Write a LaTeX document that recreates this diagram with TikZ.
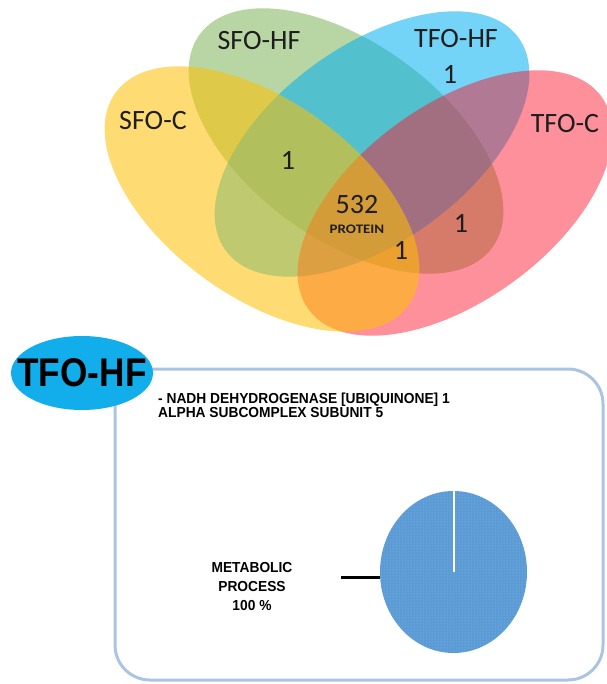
\documentclass[tikz,border=0pt]{standalone}
\usepackage{fontspec}
\setmainfont{Carlito}
\newfontfamily\arialf{Liberation Sans}
\usetikzlibrary{shapes.geometric,patterns}
\definecolor{vgreen}{RGB}{112,173,71}
\definecolor{vblue}{RGB}{0,176,240}
\definecolor{vred}{RGB}{250,20,40}
\definecolor{vyellow}{RGB}{255,192,0}
\definecolor{vtext}{RGB}{30,30,30}
\definecolor{tagblue}{RGB}{18,174,236}
\definecolor{boxc}{RGB}{170,196,226}
\definecolor{pieblue}{RGB}{91,155,213}
\definecolor{piedot}{RGB}{150,190,232}
\tikzset{
  vennset/.style={fill opacity=#1},
  vlabel/.style={text=vtext, font=\fontsize{28}{30}\selectfont, inner sep=0},
  vnum/.style={text=vtext, font=\fontsize{28}{30}\selectfont, inner sep=0},
}
\begin{document}
\begin{tikzpicture}[x=1pt,y=-1pt]
\useasboundingbox (0,0) rectangle (606,684);
% Venn ellipses
\fill[vgreen, vennset=0.5, rotate around={-36:(346,141)}] (346,141) ellipse [x radius=181, y radius=98];
\fill[vblue, vennset=0.55, rotate around={36:(372,144)}] (372,144) ellipse [x radius=181, y radius=98];
\fill[vred, vennset=0.47, rotate around={36:(455,203)}] (455,203) ellipse [x radius=181, y radius=98];
\fill[vyellow, vennset=0.55, rotate around={-36:(262,199)}] (262,199) ellipse [x radius=181, y radius=98];
% Venn labels
\node[vlabel] (sfohf) at (259,41) {SFO-HF};
\node[vlabel] (tfohf) at (456,39) {TFO-HF};
\node[vlabel] (sfoc) at (153,121) {SFO-C};
\node[vlabel] (tfoc) at (565,124) {TFO-C};
\node[vnum] (n1) at (450,74) {1};
\node[vnum] (n2) at (288,160) {1};
\node[vnum] (n532) at (357,205) {532};
\node[text=vtext, font=\bfseries\fontsize{13}{13}\selectfont, inner sep=0] (prot) at (357,229) {\scalebox{1.15}[1]{PROTEIN}};
\node[vnum] (n3) at (461,223) {1};
\node[vnum] (n4) at (401,250) {1};
% Lower panel
\node[draw=boxc, line width=3pt, rounded corners=35pt, minimum width=488pt, minimum height=311pt, inner sep=0] (box) at (359,524.5) {};
\node[ellipse, fill=tagblue, minimum width=142pt, minimum height=74pt, inner sep=0] (tag) at (82,373) {};
\node[inner sep=0, text=black, font=\arialf\bfseries\fontsize{40}{40}\selectfont] (tagtext) at (tag.center) {\scalebox{0.88}[1]{TFO-HF}};
\node[anchor=west, align=left, inner sep=0, text=black, font=\arialf\bfseries\fontsize{14.5}{14}\selectfont] (desc) at (158,405)
  {\scalebox{0.95}[1]{- NADH DEHYDROGENASE [UBIQUINONE] 1}\\\scalebox{0.95}[1]{ALPHA SUBCOMPLEX SUBUNIT 5}};
\node[ellipse, fill=pieblue, minimum width=147pt, minimum height=162pt, inner sep=0,
      postaction={pattern=dots, pattern color=piedot}] (pie) at (453.5,572) {};
\draw[white, line width=2pt] (pie.north) -- (pie.center);
\node[align=center, inner sep=0, text=black, font=\arialf\bfseries\fontsize{14.5}{19}\selectfont] (meta) at (252,587)
  {\scalebox{0.95}[1]{METABOLIC}\\\scalebox{0.95}[1]{PROCESS}\\\scalebox{0.95}[1]{100 \%}};
\coordinate (lead) at (341,577);
\draw[black, line width=3pt] (lead) -- (lead -| pie.west);
\end{tikzpicture}
\end{document}
